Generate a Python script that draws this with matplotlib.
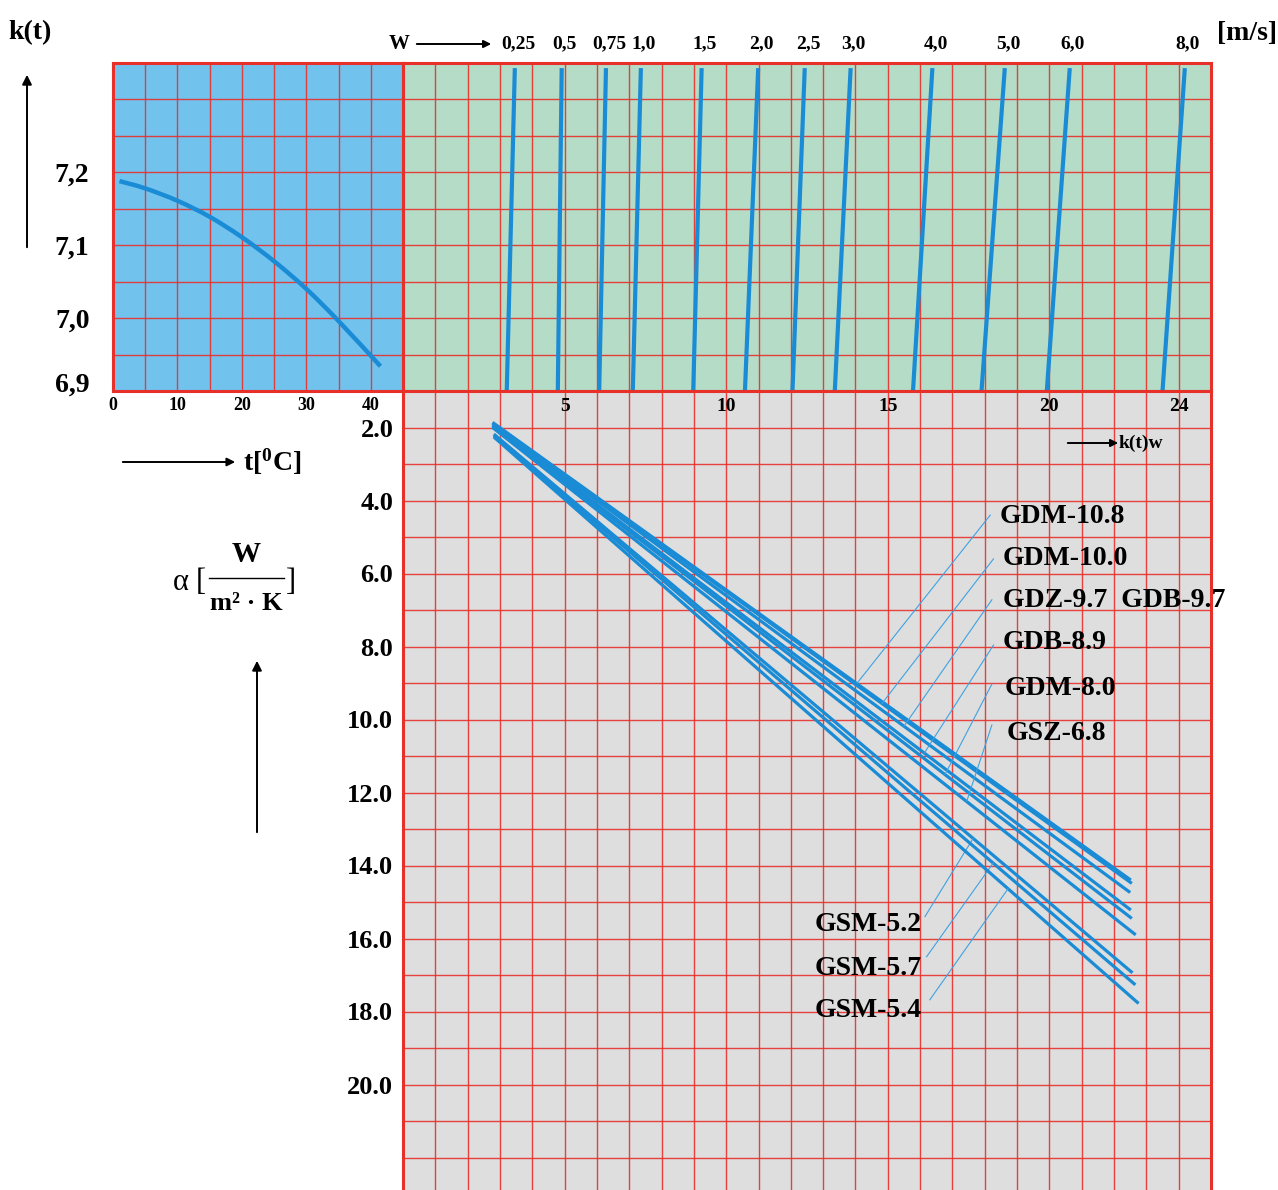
import matplotlib
matplotlib.use('Agg')
import matplotlib.pyplot as plt
from matplotlib.patches import FancyArrowPatch, PathPatch
from matplotlib.path import Path
from matplotlib.lines import Line2D
import matplotlib.transforms as mtrans
import numpy as np

FIG_W, FIG_H = 1278, 1190
SERIF = ['Liberation Serif', 'DejaVu Serif']
plt.rcParams['font.family'] = SERIF
plt.rcParams['font.weight'] = 'bold'
plt.rcParams['mathtext.fontset'] = 'custom'
plt.rcParams['mathtext.rm'] = 'Liberation Serif:bold'
plt.rcParams['mathtext.it'] = 'Liberation Serif:bold'
plt.rcParams['mathtext.bf'] = 'Liberation Serif:bold'

# ---------------- data ----------------
# k(t) vs temperature curve (top-left panel)
t_vals = [1, 5, 10, 15, 20, 25, 30, 35, 41.5]
k_vals = [7.188, 7.178, 7.161, 7.139, 7.111, 7.078, 7.040, 6.996, 6.934]
t_ticks = [0, 10, 20, 30, 40]
k_ticks = [6.9, 7.0, 7.1, 7.2]
k_tick_labels = ['6,9', '7,0', '7,1', '7,2']

# velocity lines (top-right panel): k(t)w at k=6.9 and at top of panel
w_labels = ['0,25', '0,5', '0,75', '1,0', '1,5', '2,0', '2,5', '3,0', '4,0', '5,0', '6,0', '8,0']
kw_bottom = [3.21, 4.79, 6.07, 7.11, 8.98, 10.58, 12.05, 13.36, 15.78, 17.90, 19.92, 23.50]
kw_top = [3.46, 4.91, 6.28, 7.36, 9.24, 10.99, 12.43, 13.85, 16.38, 18.62, 20.63, 24.19]
k_line_bottom = 6.9
k_line_top = 7.343

# alpha lines (bottom panel)
kw_ticks = [5, 10, 15, 20, 24]
alpha_ticks = [2, 4, 6, 8, 10, 12, 14, 16, 18, 20]
alpha_tick_labels = ['2.0', '4.0', '6.0', '8.0', '10.0', '12.0', '14.0', '16.0', '18.0', '20.0']

series_names = ['GDM-10.8', 'GDM-10.0', 'GDZ-9.7  GDB-9.7', 'GDB-8.9', 'GDM-8.0',
                'GSZ-6.8', 'GSM-5.2', 'GSM-5.7', 'GSM-5.4']
kw_start = [2.77, 2.77, 2.77, 2.77, 2.77, 2.77, 2.81, 2.81, 2.81]
alpha_start = [1.86, 1.88, 1.90, 1.93, 1.96, 2.00, 2.18, 2.22, 2.26]
kw_end = [22.52, 22.55, 22.50, 22.52, 22.55, 22.67, 22.57, 22.66, 22.76]
alpha_end = [14.40, 14.49, 14.74, 15.22, 15.45, 15.90, 16.94, 17.27, 17.78]
leader_kw = [14.04, 14.82, 15.50, 16.13, 16.77, 17.44, 17.64, 18.26, 18.72]

# label / leader layout (data coords of bottom panel)
label_pos = [(18.47, 4.45), (18.56, 5.58), (18.56, 6.73), (18.56, 7.88), (18.62, 9.14),
             (18.68, 10.37), (12.74, 15.63), (12.74, 16.81), (12.74, 17.96)]
leader_top = [(18.17, 4.40), (18.27, 5.60), (18.22, 6.72), (18.27, 7.96), (18.22, 9.03),
              (18.22, 10.15), (16.15, 15.40), (16.20, 16.50), (16.30, 17.68)]

# ---------------- styling ----------------
RED = '#e8302a'
BLUE_BG = '#72c2ee'
GREEN_BG = '#b4dcc7'
GREY_BG = '#dedede'
LINE = '#1a8bd5'
LEADER = '#3ea2e2'


def fx(px):
    return px / FIG_W


def fy(py):
    return 1 - py / FIG_H


def smooth_path(xs, ys):
    """Catmull-Rom spline through the given points as a Bezier path."""
    P = np.column_stack([xs, ys]).astype(float)
    n = len(P)
    verts = [P[0]]
    codes = [Path.MOVETO]
    for i in range(n - 1):
        p0 = P[max(i - 1, 0)]
        p1 = P[i]
        p2 = P[i + 1]
        p3 = P[min(i + 2, n - 1)]
        c1 = p1 + (p2 - p0) / 6.0
        c2 = p2 - (p3 - p1) / 6.0
        verts += [c1, c2, p2]
        codes += [Path.CURVE4] * 3
    return Path(verts, codes)


fig = plt.figure(figsize=(FIG_W / 100, FIG_H / 100), dpi=100)

X0, X1, X2 = 113, 403, 1211
Y0, Y1 = 63, 391


def grid_axes(rect, bg):
    ax = fig.add_axes(rect)
    ax.set_facecolor(bg)
    for s in ax.spines.values():
        s.set_color(RED)
        s.set_linewidth(2.2)
    ax.set_axisbelow(True)
    return ax


# ---- top-left: k(t) vs t ----
ax_t = grid_axes([fx(X0), fy(Y1), fx(X1) - fx(X0), (Y1 - Y0) / FIG_H], BLUE_BG)
ax_t.set_xlim(0, 45)
ax_t.set_ylim(6.9, 7.35)
ax_t.set_xticks(np.arange(0, 45.1, 5), minor=True)
ax_t.set_yticks(np.arange(6.9, 7.351, 0.05), minor=True)
ax_t.set_xticks(t_ticks, labels=[str(v) for v in t_ticks])
ax_t.set_yticks(k_ticks, labels=k_tick_labels)
ax_t.grid(True, which='both', color=RED, lw=1.0, alpha=0.9)
ax_t.tick_params(which='both', length=0)
ax_t.tick_params(axis='x', labelsize=13, pad=4)
ax_t.tick_params(axis='y', labelsize=20, pad=17)
# lift the bottom "6,9" label a little, as in the reference
lab69 = ax_t.get_yticklabels()[0]
lab69.set_transform(lab69.get_transform() +
                    mtrans.ScaledTranslation(0, 6 / 72, fig.dpi_scale_trans))
ax_t.add_patch(PathPatch(smooth_path(t_vals, k_vals), facecolor='none',
                         edgecolor=LINE, lw=3.2, capstyle='butt'))

# ---- top-right: velocity lines ----
ax_w = grid_axes([fx(X1), fy(Y1), fx(X2) - fx(X1), (Y1 - Y0) / FIG_H], GREEN_BG)
ax_w.set_xlim(0, 25)
ax_w.set_ylim(6.9, 7.35)
ax_w.set_xticks(np.arange(0, 25.1, 1), minor=True)
ax_w.set_yticks(np.arange(6.9, 7.351, 0.05), minor=True)
ax_w.set_xticks([])
ax_w.set_yticks([])
ax_w.grid(True, which='minor', color=RED, lw=1.0, alpha=0.9)
ax_w.tick_params(which='both', length=0, labelbottom=False, labelleft=False)
blend_w = mtrans.blended_transform_factory(ax_w.transData, ax_w.transAxes)
for lab, kb, kt in zip(w_labels, kw_bottom, kw_top):
    ax_w.plot([kb, kt], [k_line_bottom, k_line_top], color=LINE, lw=3.0,
              solid_capstyle='butt')
    ax_w.text(kt + 0.1, 1 + (Y0 - 44) / (Y1 - Y0), lab, transform=blend_w,
              ha='center', va='center', fontsize=14, clip_on=False)

# ---- bottom: alpha lines ----
A_TOP = 1.0
A_BOT = A_TOP + (FIG_H - Y1) / 36.5
ax_a = grid_axes([fx(X1), 0, fx(X2) - fx(X1), (FIG_H - Y1) / FIG_H], GREY_BG)
ax_a.spines['bottom'].set_visible(False)
ax_a.set_xlim(0, 25)
ax_a.set_ylim(A_BOT, A_TOP)
ax_a.set_xticks(np.arange(0, 25.1, 1), minor=True)
ax_a.set_yticks(np.arange(1, 23, 1), minor=True)
ax_a.set_xticks([])
ax_a.set_yticks(alpha_ticks, labels=alpha_tick_labels)
ax_a.grid(True, which='both', color=RED, lw=1.0, alpha=0.9)
ax_a.tick_params(which='both', length=0)
ax_a.tick_params(axis='y', labelsize=19, pad=7)
for v in kw_ticks:
    ax_a.text(v, 1.42, str(v), ha='center', va='center', fontsize=14)

for i, name in enumerate(series_names):
    ax_a.plot([kw_start[i], kw_end[i]], [alpha_start[i], alpha_end[i]],
              color=LINE, lw=2.3, solid_capstyle='butt')
    frac = (leader_kw[i] - kw_start[i]) / (kw_end[i] - kw_start[i])
    a_on = alpha_start[i] + frac * (alpha_end[i] - alpha_start[i])
    lx, ly = leader_top[i]
    ax_a.plot([lx, leader_kw[i]], [ly, a_on], color=LEADER, lw=0.8)
    tx, ty = label_pos[i]
    ax_a.text(tx, ty, name, ha='left', va='center', fontsize=20)


# ---- free annotations ----
def arrow(p0, p1, ms=14, lw=1.4):
    fig.add_artist(FancyArrowPatch((fx(p0[0]), fy(p0[1])), (fx(p1[0]), fy(p1[1])),
                                   transform=fig.transFigure, arrowstyle='-|>',
                                   mutation_scale=ms, lw=lw, color='black'))


def ftext(x, y, s, **kw):
    fig.text(fx(x), fy(y), s, **kw)


ftext(30, 33, 'k(t)', ha='center', va='center', fontsize=20)
arrow((27, 250), (27, 72))
ftext(399, 44, 'W', ha='center', va='center', fontsize=15)
arrow((414, 44), (494, 44), ms=11)
ftext(1277, 33, '[m/s]', ha='right', va='center', fontsize=20)

arrow((120, 462), (238, 462), ms=12)
ftext(243, 462, 't[$^{0}$C]', ha='left', va='center', fontsize=20)

arrow((1065, 443), (1121, 443), ms=11)
ftext(1119, 443, 'k(t)w', ha='left', va='center', fontsize=14)

ftext(181, 582, 'α', ha='center', va='center', fontsize=22, fontweight='normal')
ftext(201, 582, '[', ha='center', va='center', fontsize=22, fontweight='normal')
ftext(246, 555, 'W', ha='center', va='center', fontsize=21)
fig.add_artist(Line2D([fx(209), fx(284)], [fy(578), fy(578)], transform=fig.transFigure,
                      color='black', lw=1.0))
ftext(246, 604, 'm² · K', ha='center', va='center', fontsize=19)
ftext(291, 582, ']', ha='center', va='center', fontsize=22, fontweight='normal')
arrow((257, 835), (257, 658))

fig.savefig('out.png', dpi=100, facecolor='white')
